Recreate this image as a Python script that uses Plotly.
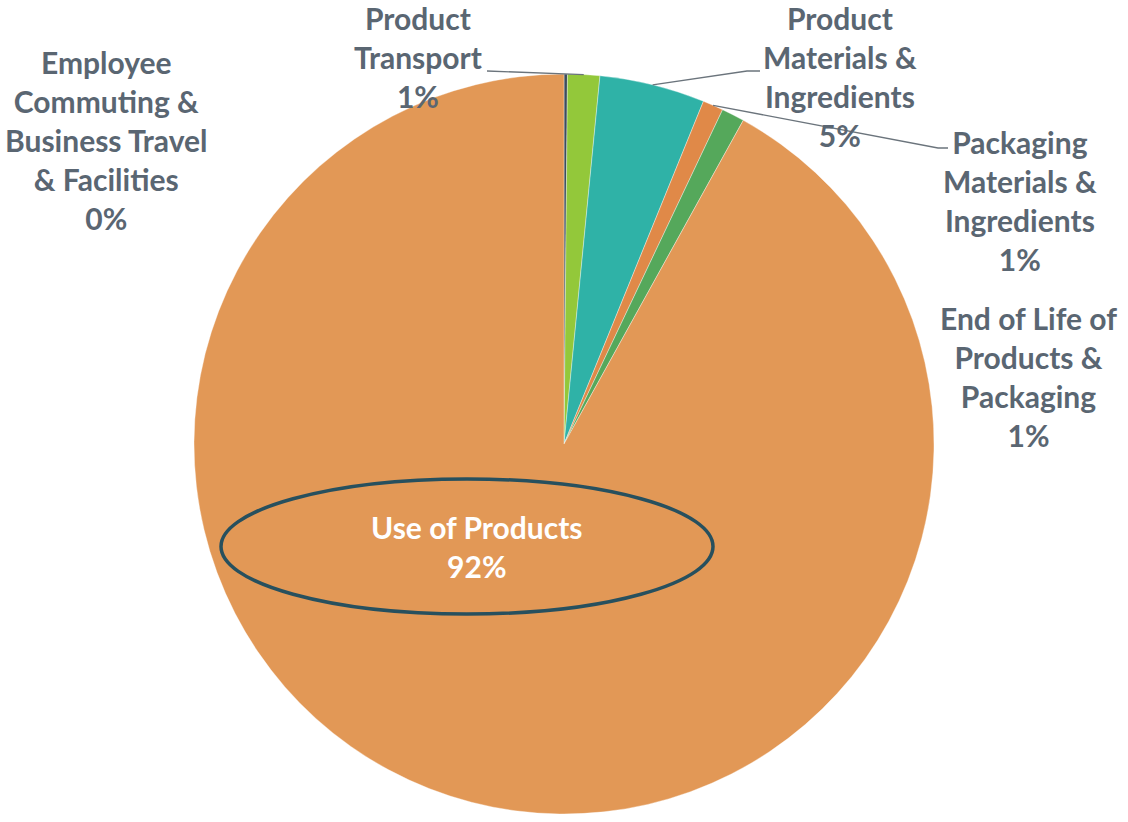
import math
import plotly.graph_objects as go

categories = [
    "Employee Commuting & Business Travel & Facilities",
    "Product Transport",
    "Product Materials & Ingredients",
    "Packaging Materials & Ingredients",
    "End of Life of Products & Packaging",
    "Use of Products",
]
label_lines = [
    ["Employee", "Commuting &", "Business Travel", "& Facilities"],
    ["Product", "Transport"],
    ["Product", "Materials &", "Ingredients"],
    ["Packaging", "Materials &", "Ingredients"],
    ["End of Life of", "Products &", "Packaging"],
    ["Use of Products"],
]
values = [0.15, 1.4, 4.6, 0.9, 1.0, 91.95]
colors = ["#3E4C5C", "#93C83A", "#2FB2A7", "#E08948", "#55A85B", "#E29856"]

W, H = 1128, 822
CX, CY, R = 564, 444, 370


def px(x):
    return x / W


def py(y):
    return 1 - y / H


total = sum(values)
pct_text = [f"{round(v / total * 100):.0f}%" for v in values]

fig = go.Figure(go.Pie(
    labels=categories,
    values=values,
    sort=False,
    direction="clockwise",
    rotation=0,
    marker=dict(colors=colors, line=dict(color="rgba(255,255,255,0.6)", width=0.6)),
    textinfo="none",
    hoverinfo="label+percent",
    showlegend=False,
    domain=dict(x=[px(CX - R), px(CX + R)], y=[py(CY + R), py(CY - R)]),
))

FONT = dict(family="Lato, 'Open Sans', sans-serif", size=30, color="#5A6672")

# label centres (pixels) for each category
label_pos = [(106, 140), (418, 57), (840, 76), (1020, 200), (1028, 376)]
for i, (x, y) in enumerate(label_pos):
    txt = "<br>".join(f"<b>{s}</b>" for s in label_lines[i] + [pct_text[i]])
    fig.add_annotation(x=px(x), y=py(y), xref="paper", yref="paper", text=txt,
                       showarrow=False, font=FONT, align="center",
                       xanchor="center", yanchor="middle")

# main label inside
fig.add_annotation(x=px(477), y=py(546), xref="paper", yref="paper",
                   text=f"<b>{label_lines[5][0]}</b><br><b>{pct_text[5]}</b>",
                   showarrow=False, font=dict(family=FONT["family"], size=30, color="white"),
                   align="center", xanchor="center", yanchor="middle")

# ellipse highlight
fig.add_shape(type="circle", xref="paper", yref="paper",
              x0=px(221), x1=px(713), y0=py(614), y1=py(479),
              line=dict(color="#27505E", width=3.5), fillcolor="rgba(0,0,0,0)")


def edge_point(idx):
    start = sum(values[:idx]) / total
    mid = start + values[idx] / total / 2
    a = mid * 2 * math.pi
    return CX + R * math.sin(a), CY - R * math.cos(a)


# leader lines: (slice index, list of label-side points)
leaders = [
    (1, [(487, 71)]),
    (2, [(747, 71), (760, 71)]),
    (3, [(938, 148), (948, 148)]),
]
for idx, pts in leaders:
    ex, ey = edge_point(idx)
    path_pts = [(ex, ey)] + pts
    d = "M " + " L ".join(f"{px(x)},{py(y)}" for x, y in path_pts)
    fig.add_shape(type="path", xref="paper", yref="paper", path=d,
                  line=dict(color="#6B747C", width=1.3))

fig.update_layout(
    width=W, height=H,
    margin=dict(l=0, r=0, t=0, b=0),
    paper_bgcolor="white", plot_bgcolor="white",
)

fig.write_html("out.html")
